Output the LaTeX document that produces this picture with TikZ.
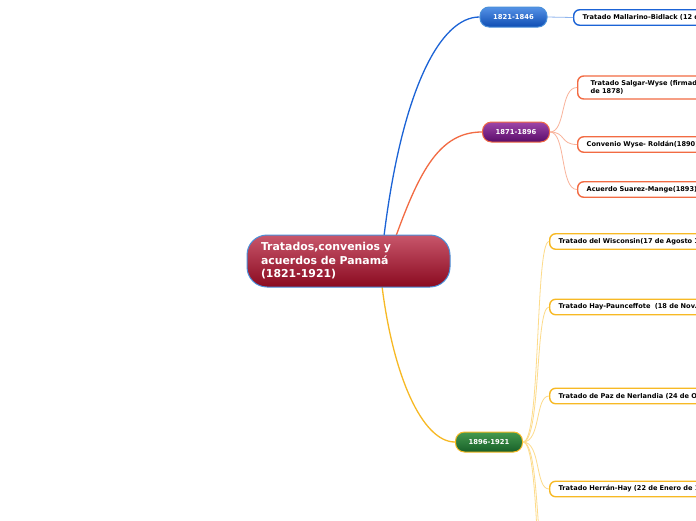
\documentclass[tikz,border=0pt]{standalone}
\usepackage{fontspec}
\setmainfont{DejaVu Sans}
\definecolor{cblue}{HTML}{1B63D6}
\definecolor{corange}{HTML}{F26B43}
\definecolor{cyellow}{HTML}{F7B924}
\definecolor{lblue}{HTML}{8FB5EE}
\definecolor{lorange}{HTML}{F9B39B}
\definecolor{lyellow}{HTML}{FDDB8A}
\definecolor{redtop}{HTML}{C8566B}
\definecolor{redbot}{HTML}{8A0A20}
\definecolor{bluetop}{HTML}{5592E6}
\definecolor{bluebot}{HTML}{0E4DB3}
\definecolor{purtop}{HTML}{9E46A8}
\definecolor{purbot}{HTML}{5A0C6A}
\definecolor{grntop}{HTML}{459A4F}
\definecolor{grnbot}{HTML}{175F28}
\definecolor{cborder}{HTML}{4A90DA}
\tikzset{
  centralbox/.style={draw=cborder, line width=1pt, top color=redtop, bottom color=redbot,
    rounded corners=20pt, minimum width=203pt, minimum height=52pt, text width=175pt, align=left,
    text=white, font=\bfseries\fontsize{10.9}{13.5}\selectfont, inner sep=0pt},
  period/.style={rounded corners=9pt, minimum width=67pt, minimum height=20pt, inner sep=0pt,
    text=white, font=\bfseries\fontsize{6.8}{8}\selectfont, line width=1pt},
  leaf/.style={draw, fill=white, rounded corners=6pt, line width=1.4pt, anchor=west, align=left,
    text width=160pt, inner xsep=9pt, inner ysep=0pt, minimum height=15.5pt,
    font=\bfseries\fontsize{6.6}{8.5}\selectfont, text=black},
  mainlink/.style={line width=1.3pt},
  sublink/.style={line width=0.8pt},
}
\begin{document}
\begin{tikzpicture}[x=1pt,y=-1pt]
\useasboundingbox (0,0) rectangle (696,520);
\clip (0,0) rectangle (696,520);
\fill[white] (0,0) rectangle (696,520);
% connector end points
\coordinate (cb) at (384,236);
\coordinate (co) at (396,236);
\coordinate (cy) at (382,286);
\coordinate (off1) at (549,580);
\coordinate (off2) at (549,640);
% period nodes
\node[period, draw=cborder, top color=bluetop, bottom color=bluebot] (p1) at (513.5,17) {1821-1846};
\node[period, draw=corange, top color=purtop, bottom color=purbot] (p2) at (516,132) {1871-1896};
\node[period, draw=cyellow, top color=grntop, bottom color=grnbot] (p3) at (489,442) {1896-1921};
% leaves
\node[leaf, draw=cblue] (l1) at (573,17.5) {Tratado Mallarino-Bidlack (12 d};
\node[leaf, draw=corange, inner xsep=13pt, minimum height=23pt] (l2) at (577,87.5) {Tratado Salgar-Wyse (firmad\\de 1878)};
\node[leaf, draw=corange] (l3) at (577,144.5) {Convenio Wyse- Rold\'an(1890)};
\node[leaf, draw=corange] (l4) at (577,189.5) {Acuerdo Suarez-Mange(1893)};
\node[leaf, draw=cyellow] (l5) at (549,241.5) {Tratado del Wisconsin(17 de Agosto 1};
\node[leaf, draw=cyellow] (l6) at (549,307) {Tratado Hay-Paunceffote\ \ (18 de Nov.};
\node[leaf, draw=cyellow] (l7) at (549,396) {Tratado de Paz de Nerlandia (24 de O};
\node[leaf, draw=cyellow] (l8) at (549,489) {Tratado Herr\'an-Hay (22 de Enero de 1};
% main links
\draw[mainlink, cblue] (cb) .. controls (402,90) and (440,17) .. (p1.west);
\draw[mainlink, corange] (co) .. controls (420,170) and (440,132) .. (p2.west);
\draw[mainlink, cyellow] (cy) .. controls (393,375) and (422,442) .. (p3.west);
% sub links
\draw[sublink, lblue] (p1.east) -- (l1.west);
\draw[sublink, lorange] (p2.east) .. controls (566,132) and (560,87.5) .. (l2.west);
\draw[sublink, lorange] (p2.east) .. controls (566,132) and (560,144.5) .. (l3.west);
\draw[sublink, lorange] (p2.east) .. controls (566,132) and (560,189.5) .. (l4.west);
\draw[sublink, lyellow] (p3.east) .. controls (541,442) and (535,241.5) .. (l5.west);
\draw[sublink, lyellow] (p3.east) .. controls (541,442) and (535,307) .. (l6.west);
\draw[sublink, lyellow] (p3.east) .. controls (541,442) and (535,396) .. (l7.west);
\draw[sublink, lyellow] (p3.east) .. controls (541,442) and (535,489) .. (l8.west);
\draw[sublink, lyellow] (p3.east) .. controls (541,442) and (535,580) .. (off1);
\draw[sublink, lyellow] (p3.east) .. controls (541,442) and (535,640) .. (off2);
% central
\node[centralbox] (c) at (348.5,261) {Tratados,convenios y\\acuerdos de Panam\'a\\(1821-1921)};
\end{tikzpicture}
\end{document}
